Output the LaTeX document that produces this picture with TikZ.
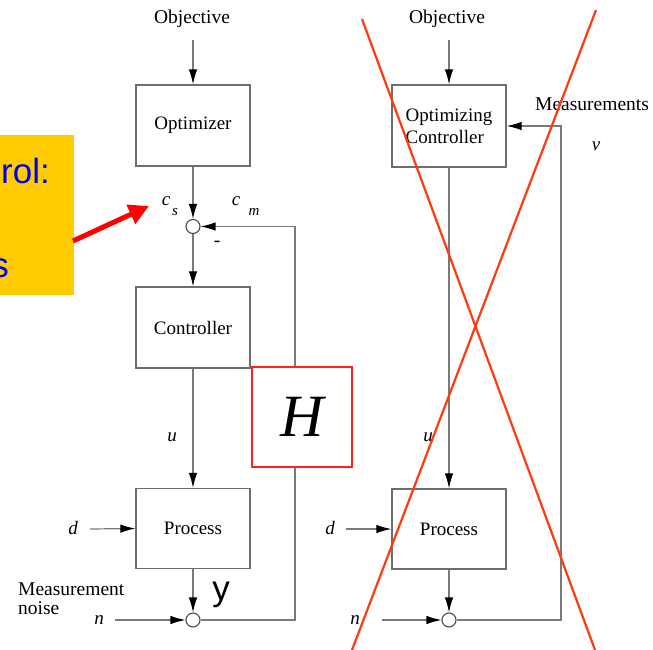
\documentclass[tikz,border=0pt]{standalone}
\usepackage{fontspec}
\setmainfont{Liberation Serif}
\newfontfamily\arialfont{Liberation Sans}
\usetikzlibrary{arrows.meta}
\definecolor{lgray}{HTML}{7A7A7A}
\definecolor{bgray}{HTML}{6E6E6E}
\definecolor{ybox}{HTML}{FFCC00}
\definecolor{tblue}{HTML}{0000F0}
\definecolor{xred}{HTML}{FF3A10}
\definecolor{hred}{HTML}{FF2020}
\tikzset{
  blk/.style={draw=bgray, line width=1.3pt, minimum width=114pt, inner sep=0pt, font=\fontsize{19}{22}\selectfont},
  sumc/.style={circle, draw=black!70, line width=1.1pt, minimum size=14pt, inner sep=0pt},
  conn/.style={draw=lgray, line width=1.2pt, -{Latex[length=15pt,width=8.5pt,color=black]}},
  plain/.style={draw=lgray, line width=1.2pt},
  lbl/.style={inner sep=0pt, font=\fontsize{19.5}{22}\selectfont},
  mlbl/.style={inner sep=0pt, font=\fontsize{19}{22}\selectfont\itshape},
  slbl/.style={inner sep=0pt, font=\fontsize{15}{17}\selectfont\itshape},
  bigsans/.style={inner sep=0pt, font=\arialfont\fontsize{35}{40}\selectfont},
}
\begin{document}
\begin{tikzpicture}[x=1pt,y=-1pt]
\useasboundingbox (0,0) rectangle (653,650);
\fill[white] (0,0) rectangle (653,650);

% ---------- yellow clipped box ----------
\fill[ybox] (0,135) rectangle (74,295);
\begin{scope}
\clip (0,135) rectangle (74,295);
\node[bigsans, text=tblue, anchor=base east] (yt1) at (50,183) {rol:};
\node[bigsans, text=tblue, anchor=base east] (yt2) at (9,277) {s};
\end{scope}
\coordinate (rtail) at (73,241);
\coordinate (rtip) at (149,206);
\draw[red, line width=5pt, -{Triangle[length=20pt,width=20pt]}] (rtail) -- (rtip);

% ---------- left column ----------
\node[lbl] (obj1) at (192,19) {Objective};
\coordinate (obj1s) at (193,40);
\node[blk, minimum height=81pt] (opt) at (193,125.5) {Optimizer};
\node[sumc] (sum1) at (193,226.5) {};
\node[blk, minimum height=81pt] (ctrl) at (193,327.5) {Controller};
\node[blk, minimum height=80pt] (proc1) at (193,528.5) {Process};
\node[sumc] (sum2) at (193,620) {};

\node[mlbl] (c1) at (166,201) {c};
\node[slbl] (s1) at (175,212) {s};
\node[mlbl] (c2) at (236,201) {c};
\node[slbl] (m2) at (254,212) {m};
\node[lbl] (minus) at (217,244) {-};
\node[mlbl] (u1) at (172,437) {u};
\node[mlbl] (d1) at (73,528) {d};
\coordinate (d1s) at (90,529);
\node[lbl, anchor=base west, align=left] (mn1) at (18,595) {Measurement};
\node[lbl, anchor=base west] (mn2) at (18,614) {noise};
\node[mlbl] (n1) at (99,620) {n};
\coordinate (n1s) at (115,620);
\node[bigsans, anchor=base] (ylab) at (221,600) {y};

\draw[conn] (obj1s) -- (opt.north);
\draw[conn] (opt.south) -- (sum1.north);
\draw[conn] (sum1.south) -- (ctrl.north);
\draw[conn] (ctrl.south) -- (proc1.north);
\draw[conn] (proc1.south) -- (sum2.north);
\draw[conn] (d1s) -- (proc1.west);
\draw[conn] (n1s) -- (sum2.west);
\coordinate (fb1) at (295,400);
\draw[conn] (sum2.east) -| (fb1) |- (sum1.east);

% H box
\node[draw=hred, fill=white, line width=1.5pt, minimum width=100pt, minimum height=100pt, inner sep=0pt,
      font=\fontsize{60}{62}\selectfont\itshape] (hbox) at (302,417) {H};

% ---------- right column ----------
\node[lbl] (obj2) at (447,19) {Objective};
\coordinate (obj2s) at (449,40);
\node[blk, minimum height=82pt, align=left] (opt2) at (449,126) {Optimizing\\Controller};
\node[blk, minimum height=80pt] (proc2) at (449,529) {Process};
\node[sumc] (sum4) at (449,620) {};
\node[lbl, anchor=base west] (meas) at (535,111) {Measurements};
\node[mlbl] (v2) at (596,146) {v};
\node[mlbl] (u2) at (428,437) {u};
\node[mlbl] (d2) at (330,528) {d};
\coordinate (d2s) at (346,529);
\node[mlbl] (n2) at (355,620) {n};
\coordinate (n2s) at (382,620);

\draw[conn] (obj2s) -- (opt2.north);
\draw[conn] (opt2.south) -- (proc2.north);
\draw[conn] (proc2.south) -- (sum4.north);
\draw[conn] (d2s) -- (proc2.west);
\draw[conn] (n2s) -- (sum4.west);
\coordinate (fb2) at (561,400);
\draw[conn] (sum4.east) -| (fb2) |- (opt2.east);

% red cross
\coordinate (xa1) at (362,19);
\coordinate (xa2) at (595,650);
\coordinate (xb1) at (596,10);
\coordinate (xb2) at (352,650);
\draw[xred, line width=2.2pt] (xa1) -- (xa2);
\draw[xred, line width=2.2pt] (xb1) -- (xb2);
\end{tikzpicture}
\end{document}
